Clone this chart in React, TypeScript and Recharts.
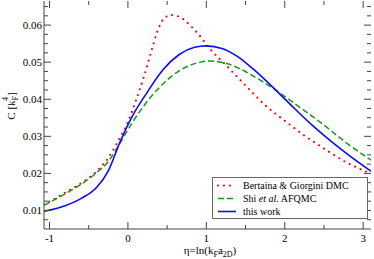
import React from "react"
import { LineChart, Line, XAxis, YAxis } from "recharts"

// Bertaina & Giorgini DMC
const bgEta = [-1.07, -0.8, -0.6, -0.4, -0.25, -0.1, 0, 0.1, 0.2, 0.3, 0.38, 0.45, 0.55, 0.65, 0.75, 0.9, 1.05, 1.25, 1.5, 1.75, 2.0, 2.25, 2.5, 2.75, 3.1]
const bgC = [0.0116, 0.0148, 0.0173, 0.0205, 0.0242, 0.0297, 0.0338, 0.0395, 0.0458, 0.053, 0.0585, 0.0615, 0.0627, 0.0623, 0.0608, 0.0575, 0.0535, 0.0492, 0.0437, 0.0384, 0.0342, 0.0302, 0.0267, 0.0234, 0.0199]

// Shi et al. AFQMC
const shiEta = [-1.07, -0.8, -0.6, -0.4, -0.25, -0.1, 0.05, 0.25, 0.45, 0.65, 0.85, 1.05, 1.25, 1.45, 1.65, 1.85, 2.05, 2.3, 2.55, 2.8, 3.1]
const shiC = [0.0114, 0.0145, 0.017, 0.0202, 0.0232, 0.0282, 0.0335, 0.0395, 0.0442, 0.0476, 0.0496, 0.0503, 0.0497, 0.048, 0.0456, 0.043, 0.04, 0.0362, 0.0322, 0.028, 0.0236]

// this work
const workEta = [-1.07, -0.8, -0.6, -0.4, -0.25, -0.1, 0.05, 0.25, 0.45, 0.65, 0.85, 1.0, 1.2, 1.4, 1.6, 1.85, 2.1, 2.36, 2.6, 2.85, 3.1]
const workC = [0.0098, 0.0113, 0.0132, 0.0162, 0.0207, 0.0285, 0.0352, 0.042, 0.048, 0.052, 0.054, 0.0544, 0.0537, 0.0515, 0.0481, 0.0432, 0.038, 0.0328, 0.0285, 0.0244, 0.0206]

const xTicks = [-1, -0.5, 0, 0.5, 1, 1.5, 2, 2.5, 3]
const yTicks = [0.0075, 0.01, 0.0125, 0.015, 0.0175, 0.02, 0.0225, 0.025, 0.0275, 0.03, 0.0325, 0.035, 0.0375, 0.04, 0.0425, 0.045, 0.0475, 0.05, 0.0525, 0.055, 0.0575, 0.06, 0.0625, 0.065]

const bgData = bgEta.map((eta, i) => ({ eta, c: bgC[i] }))
const shiData = shiEta.map((eta, i) => ({ eta, c: shiC[i] }))
const workData = workEta.map((eta, i) => ({ eta, c: workC[i] }))

const W = 374
const H = 259
const LEFT = 44
const TOP = 1
const RIGHT = 371
const BOTTOM = 229
const FRAME = "#444"
const FONT = "Liberation Serif, Times New Roman, Times, Noto Serif, DejaVu Serif, serif"

const isMajorX = (v: number) => Number.isInteger(v)
const isMajorY = (v: number) => Math.abs(v * 100 - Math.round(v * 100)) < 1e-6

function XTick(props: any) {
  const { x, payload } = props
  const v = payload.value
  const len = isMajorX(v) ? 7 : 4
  return (
    <g>
      <line x1={x} x2={x} y1={BOTTOM} y2={BOTTOM - len} stroke={FRAME} />
      <line x1={x} x2={x} y1={TOP} y2={TOP + len} stroke={FRAME} />
      {isMajorX(v) && (
        <text x={x} y={242} textAnchor="middle" fontSize={11} style={{ fontFamily: FONT }} fill="#000">
          {v}
        </text>
      )}
    </g>
  )
}

function YTick(props: any) {
  const { y, payload } = props
  const v = payload.value
  const len = isMajorY(v) ? 7 : 4
  return (
    <g>
      <line x1={LEFT} x2={LEFT + len} y1={y} y2={y} stroke={FRAME} />
      <line x1={RIGHT} x2={RIGHT - len} y1={y} y2={y} stroke={FRAME} />
      {isMajorY(v) && (
        <text x={42} y={y + 4} textAnchor="end" fontSize={11} style={{ fontFamily: FONT }} fill="#000">
          {v.toFixed(2)}
        </text>
      )}
    </g>
  )
}

function XLabel() {
  return (
    <text x={210} y={254} textAnchor="middle" fontSize={11} style={{ fontFamily: FONT }} fill="#000">
      <tspan>η=ln(k</tspan>
      <tspan dy={3} fontSize={8}>F</tspan>
      <tspan dy={-3}>a</tspan>
      <tspan dy={3} fontSize={8}>2D</tspan>
      <tspan dy={-3}>)</tspan>
    </text>
  )
}

function YLabel() {
  return (
    <text transform="translate(15,106) rotate(-90)" textAnchor="middle" fontSize={11} style={{ fontFamily: FONT }} fill="#000">
      <tspan>C [k</tspan>
      <tspan dy={3} fontSize={8}>F</tspan>
      <tspan dx={-5} dy={-10} fontSize={8}>4</tspan>
      <tspan dx={1} dy={7}>]</tspan>
    </text>
  )
}

function LegendBox() {
  const row = (sample: React.ReactNode, label: React.ReactNode, top: number) => (
    <div style={{ position: "absolute", left: 0, top, height: 13, display: "flex", alignItems: "center" }}>
      <svg width={24} height={13} style={{ marginLeft: 3 }}>
        {sample}
      </svg>
      <span style={{ marginLeft: 3, fontSize: 10, lineHeight: "13px", whiteSpace: "nowrap" }}>{label}</span>
    </div>
  )
  return (
    <div
      style={{
        position: "absolute",
        left: 212,
        top: 177,
        width: 154,
        height: 40,
        border: "1px solid #666",
        background: "#fff",
        fontFamily: FONT,
      }}
    >
      {row(
        <line x1={2} x2={20} y1={6.5} y2={6.5} stroke="#ff0000" strokeWidth={2.2} strokeDasharray="0 6" strokeLinecap="round" />,
        "Bertaina & Giorgini DMC",
        1
      )}
      {row(
        <line x1={2} x2={20} y1={6.5} y2={6.5} stroke="#16991a" strokeWidth={1.5} strokeDasharray="6 3" />,
        <>
          Shi <i>et al.</i> AFQMC
        </>,
        14
      )}
      {row(<line x1={2} x2={20} y1={6.5} y2={6.5} stroke="#0a0aff" strokeWidth={1.6} />, "this work", 27)}
    </div>
  )
}

export default function App() {
  return (
    <div style={{ position: "absolute", left: 0, top: 0, width: W, height: H, background: "#fff" }}>
      <LineChart width={W} height={H} margin={{ top: TOP, right: W - RIGHT, left: 0, bottom: 0 }}>
        <XAxis
          dataKey="eta"
          type="number"
          domain={[-1.07, 3.1]}
          allowDataOverflow
          ticks={xTicks}
          interval={0}
          height={30}
          tickLine={false}
          stroke={FRAME}
          tick={<XTick />}
          label={<XLabel />}
        />
        <XAxis
          xAxisId="top"
          orientation="top"
          type="number"
          domain={[-1.07, 3.1]}
          height={0}
          tick={false}
          tickLine={false}
          stroke={FRAME}
        />
        <YAxis
          type="number"
          domain={[0.005, 0.0665]}
          allowDataOverflow
          ticks={yTicks}
          interval={0}
          width={LEFT}
          tickLine={false}
          stroke={FRAME}
          tick={<YTick />}
          label={<YLabel />}
        />
        <YAxis
          yAxisId="right"
          orientation="right"
          type="number"
          domain={[0.005, 0.0665]}
          width={0}
          tick={false}
          tickLine={false}
          stroke={FRAME}
        />
        <Line
          data={bgData}
          dataKey="c"
          type="monotone"
          stroke="#ff0000"
          strokeWidth={2.2}
          strokeDasharray="0 6"
          strokeLinecap="round"
          dot={false}
          isAnimationActive={false}
        />
        <Line
          data={shiData}
          dataKey="c"
          type="monotone"
          stroke="#16991a"
          strokeWidth={1.5}
          strokeDasharray="6 3"
          dot={false}
          isAnimationActive={false}
        />
        <Line
          data={workData}
          dataKey="c"
          type="monotone"
          stroke="#0a0aff"
          strokeWidth={1.6}
          dot={false}
          isAnimationActive={false}
        />
      </LineChart>
      <LegendBox />
    </div>
  )
}
